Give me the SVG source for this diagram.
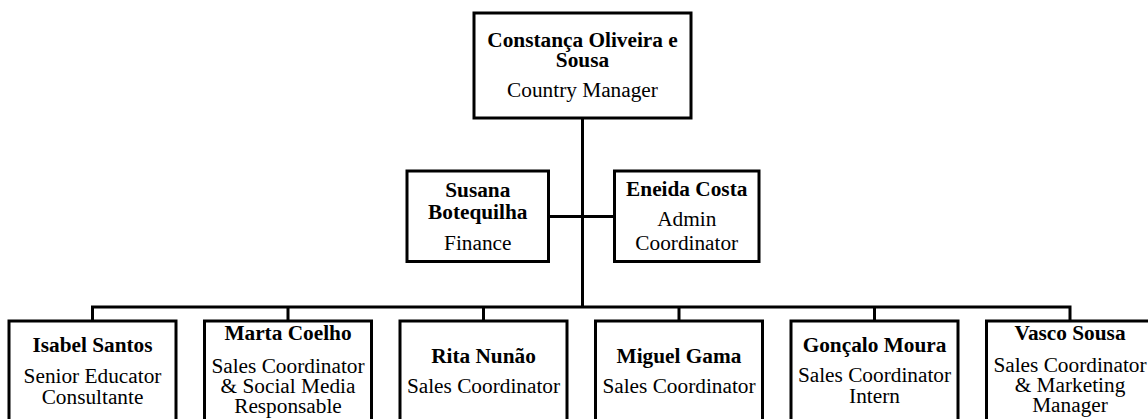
<svg xmlns="http://www.w3.org/2000/svg" width="1148" height="419" viewBox="0 0 1148 419">
  <style>
    .box { fill: #ffffff; stroke: #000000; stroke-width: 3; }
    .link { fill: none; stroke: #000000; stroke-width: 3; }
    text { font-family: "Liberation Serif", "Times New Roman", serif; font-size: 21.3px; fill: #000000; text-anchor: middle; }
    .name { font-weight: bold; }
  </style>
  <rect width="1148" height="419" fill="#ffffff"/>

  <!-- reporting lines -->
  <g id="connectors">
    <path class="link" d="M582.5 118 V307"/>
    <path class="link" d="M548.5 216.5 H614.5"/>
    <path class="link" d="M92.5 321 V307 H1070 V321"/>
    <path class="link" d="M288 307 V321 M483.5 307 V321 M679 307 V321 M874.5 307 V321"/>
  </g>

  <g id="node-constanca">
    <rect class="box" x="474" y="13" width="217" height="105"/>
    <text class="name" x="582.5" y="46.5">Constança Oliveira e</text>
    <text class="name" x="582.5" y="67">Sousa</text>
    <text x="582.5" y="96.5">Country Manager</text>
  </g>

  <g id="node-susana">
    <rect class="box" x="407" y="171" width="141.5" height="90.5"/>
    <text class="name" x="477.75" y="196.5">Susana</text>
    <text class="name" x="477.75" y="219">Botequilha</text>
    <text x="477.75" y="250">Finance</text>
  </g>

  <g id="node-eneida">
    <rect class="box" x="614.5" y="171" width="144.5" height="90.5"/>
    <text class="name" x="686.75" y="196">Eneida Costa</text>
    <text x="686.75" y="226">Admin</text>
    <text x="686.75" y="250">Coordinator</text>
  </g>

  <g id="node-isabel">
    <rect class="box" x="9" y="321" width="167" height="118"/>
    <text class="name" x="92.5" y="351.5">Isabel Santos</text>
    <text x="92.5" y="382.5">Senior Educator</text>
    <text x="92.5" y="404">Consultante</text>
  </g>

  <g id="node-marta">
    <rect class="box" x="204.5" y="321" width="167" height="118"/>
    <text class="name" x="288" y="340">Marta Coelho</text>
    <text x="288" y="372.5">Sales Coordinator</text>
    <text x="288" y="392.5">&amp; Social Media</text>
    <text x="288" y="412.5">Responsable</text>
  </g>

  <g id="node-rita">
    <rect class="box" x="400" y="321" width="167" height="118"/>
    <text class="name" x="483.5" y="362.5">Rita Nunão</text>
    <text x="483.5" y="392.5">Sales Coordinator</text>
  </g>

  <g id="node-miguel">
    <rect class="box" x="595.5" y="321" width="167" height="118"/>
    <text class="name" x="679" y="362.5">Miguel Gama</text>
    <text x="679" y="392.5">Sales Coordinator</text>
  </g>

  <g id="node-goncalo">
    <rect class="box" x="791" y="321" width="167" height="118"/>
    <text class="name" x="874.5" y="351.5">Gonçalo Moura</text>
    <text x="874.5" y="381.5">Sales Coordinator</text>
    <text x="874.5" y="403">Intern</text>
  </g>

  <g id="node-vasco">
    <rect class="box" x="986.5" y="321" width="167" height="118"/>
    <text class="name" x="1070" y="340">Vasco Sousa</text>
    <text x="1070" y="371.5">Sales Coordinator</text>
    <text x="1070" y="391.5">&amp; Marketing</text>
    <text x="1070" y="411.5">Manager</text>
  </g>
</svg>
